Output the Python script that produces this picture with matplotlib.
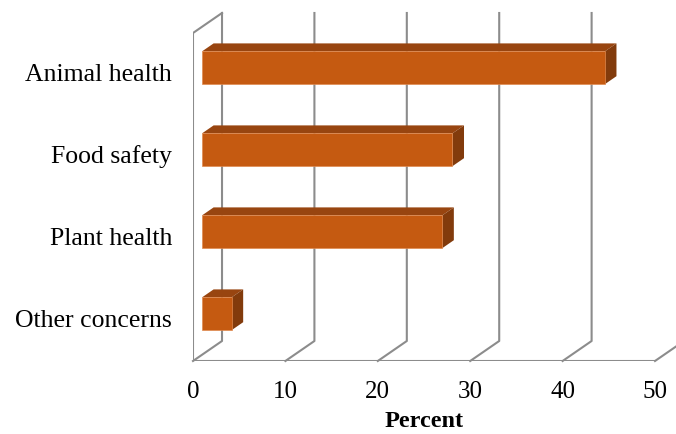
import matplotlib.pyplot as plt
from matplotlib.patches import Polygon

categories = ['Other concerns', 'Plant health', 'Food safety', 'Animal health']
values = [3.2, 26.0, 27.1, 43.6]
xticks = [0, 10, 20, 30, 40, 50]

# fake 3d: offset of the back wall in data units
DX, DY = 3.14, 0.244
f1, f2 = 0.31, 0.71   # bar front/back depth
h = 0.40
grid_c = '#8c8c8c'
front_c, top_c, side_c = '#c55a11', '#984510', '#823b0c'

plt.rcParams['font.family'] = ['Liberation Serif', 'DejaVu Serif']

fig = plt.figure(figsize=(6.76, 4.35), dpi=100)
ax = fig.add_axes([193/676, 73/435, 483/676, 362/435])
ax.set_xlim(0, 483/9.24)
ax.set_ylim(-0.5, -0.5 + 362/82)
ax.axis('off')

y0, y1 = -0.5, len(categories) - 0.5

# walls and gridlines
ax.plot([0, 0, DX], [y0, y1, y1 + DY], color=grid_c, lw=1.5, zorder=1)
ax.plot([0, xticks[-1]], [y0, y0], color=grid_c, lw=1.5, zorder=1)
for x in xticks:
    ax.plot([x, x + DX, x + DX], [y0, y0 + DY, y1 + DY], color=grid_c, lw=1.5,
            zorder=1, clip_on=False)

d = f2 - f1
for i, v in enumerate(values):
    xa = f1 * DX
    xb = v + f1 * DX
    yb = i - h / 2 + f1 * DY
    yt = i + h / 2 + f1 * DY
    front = Polygon([(xa, yb), (xb, yb), (xb, yt), (xa, yt)], closed=True,
                    fc=front_c, ec='#e08a50', lw=0.5, zorder=3)
    top = Polygon([(xa, yt), (xb, yt), (xb + d * DX, yt + d * DY), (xa + d * DX, yt + d * DY)],
                  closed=True, fc=top_c, ec='none', zorder=3)
    side = Polygon([(xb, yb), (xb + d * DX, yb + d * DY), (xb + d * DX, yt + d * DY), (xb, yt)],
                   closed=True, fc=side_c, ec='none', zorder=3)
    for p in (top, side, front):
        ax.add_patch(p)
    ax.text(-2.27, i, categories[i], ha='right', va='center', fontsize=18.5)

for x in xticks:
    ax.text(x, y0 - 0.366, str(x), ha='center', va='center', fontsize=18)

ax.text(25, y0 - 0.73, 'Percent', ha='center', va='center', fontsize=17.5,
        fontweight='bold')

fig.savefig('out.png', dpi=100)
